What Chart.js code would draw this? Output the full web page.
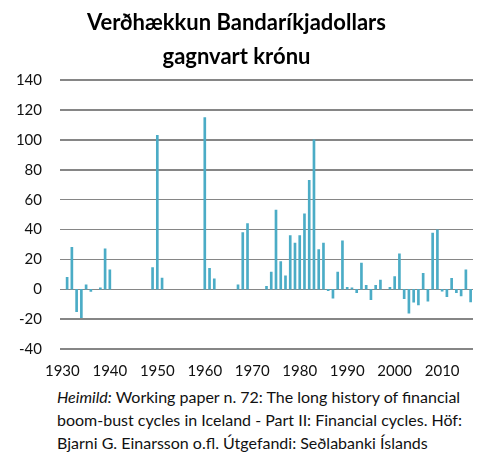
<!DOCTYPE html>
<html>
<head>
<meta charset="utf-8">
<script src="https://cdn.jsdelivr.net/npm/chart.js@4.4.1/dist/chart.umd.min.js"></script>
<style>
  html, body { margin: 0; padding: 0; background: #fff; }
  #wrap { position: relative; width: 480px; height: 452px; }
  #chart { position: relative; z-index: 1; }
  .gridline { position: absolute; height: 1.5px; background: #868686; z-index: 0; }
  #source {
    position: absolute; left: 57px; top: 385px;
    font: 16px Lato, sans-serif; line-height: 23px; color: #111;
    white-space: nowrap;
  }
</style>
</head>
<body>
<div id="wrap">
  <canvas id="chart" width="480" height="452"></canvas>
  <div id="source"><i>Heimild:</i> Working paper n. 72: The long history of financial<br>boom-bust cycles in Iceland - Part II: Financial cycles. Höf:<br>Bjarni G. Einarsson o.fl. Útgefandi: Seðlabanki Íslands</div>
</div>
<script>
// year-on-year change of the USD against the krona, %
// years not listed have no bar
const years = [
  1931, 1932, 1933, 1934, 1935, 1936, 1938, 1939, 1940,
  1949, 1950, 1951,
  1960, 1961, 1962,
  1967, 1968, 1969,
  1973, 1974, 1975, 1976, 1977, 1978, 1979, 1980, 1981, 1982, 1983, 1984, 1985,
  1986, 1987, 1988, 1989, 1990, 1991, 1992, 1993, 1994, 1995, 1996, 1997,
  1999, 2000, 2001, 2002, 2003, 2004, 2005, 2006, 2007, 2008, 2009,
  2010, 2011, 2012, 2013, 2014, 2015, 2016
];
const changes = [
  8, 28, -15, -19, 3, -1.5, 1, 27, 13,
  14.5, 103, 7.5,
  115, 14, 7,
  3, 38, 44,
  2, 11.5, 53, 18.5, 9, 36, 31, 36, 50.5, 73, 100, 26.5, 31,
  -1, -6, 11.5, 32.5, 1.3, 1, -2.2, 17.5, 2.7, -7, 2.7, 6.2,
  1.3, 8.5, 23.7, -6.3, -16, -8.7, -10.5, 10.7, -8, 37.6, 39.8,
  -1.3, -5, 7.4, -2.3, -4.5, 13, -8.5
];
const firstYear = 1930;
const lastYear = 2016;
const decadeTicks = [1930, 1940, 1950, 1960, 1970, 1980, 1990, 2000, 2010];

// one category per year, empty where the source has no value
const labels = [];
const values = [];
for (let y = firstYear; y <= lastYear; y++) {
  labels.push(String(y));
  const i = years.indexOf(y);
  values.push(i >= 0 ? changes[i] : null);
}

const font = 'Lato, sans-serif';
const ctx = document.getElementById('chart').getContext('2d');

const chart = new Chart(ctx, {
  type: 'bar',
  data: {
    labels: labels,
    datasets: [{
      data: values,
      backgroundColor: '#4BACC6',
      barThickness: 2,
    }],
  },
  options: {
    responsive: false,
    animation: false,
    layout: { padding: { left: 0, right: 7, top: 0, bottom: 72 } },
    plugins: {
      legend: { display: false },
      tooltip: { enabled: false },
      title: {
        display: true,
        text: ['Verðhækkun Bandaríkjadollars', 'gagnvart krónu'],
        color: '#000',
        font: { family: font, size: 22, weight: 'bold', lineHeight: 1.55 },
        padding: { top: 6, bottom: 6 },
      },
    },
    scales: {
      x: {
        offset: true,
        grid: { display: false, drawTicks: false },
        border: { display: false },
        afterFit: scale => { scale.height = 31; },
        ticks: {
          padding: 0,
          maxRotation: 0,
          autoSkip: false,
          color: '#111',
          font: { family: font, size: 15, lineHeight: 2.95 },
          callback: function (v) {
            const lab = this.getLabelForValue(v);
            return decadeTicks.includes(Number(lab)) ? lab : '';
          },
        },
      },
      y: {
        min: -40,
        max: 140,
        grid: { display: false, drawTicks: false },
        border: { display: false },
        afterFit: scale => { scale.width = 60; },
        ticks: {
          stepSize: 20,
          padding: 18,
          color: '#111',
          font: { family: font, size: 15 },
        },
      },
    },
  },
});

// gridlines behind the canvas, placed from the y scale's own tick pixels
const wrap = document.getElementById('wrap');
const area = chart.chartArea;
chart.scales.y.ticks.forEach(t => {
  const line = document.createElement('div');
  line.className = 'gridline';
  line.style.left = area.left + 'px';
  line.style.width = (area.right - area.left) + 'px';
  line.style.top = (chart.scales.y.getPixelForValue(t.value) - 0.75) + 'px';
  wrap.appendChild(line);
});
</script>
</body>
</html>
